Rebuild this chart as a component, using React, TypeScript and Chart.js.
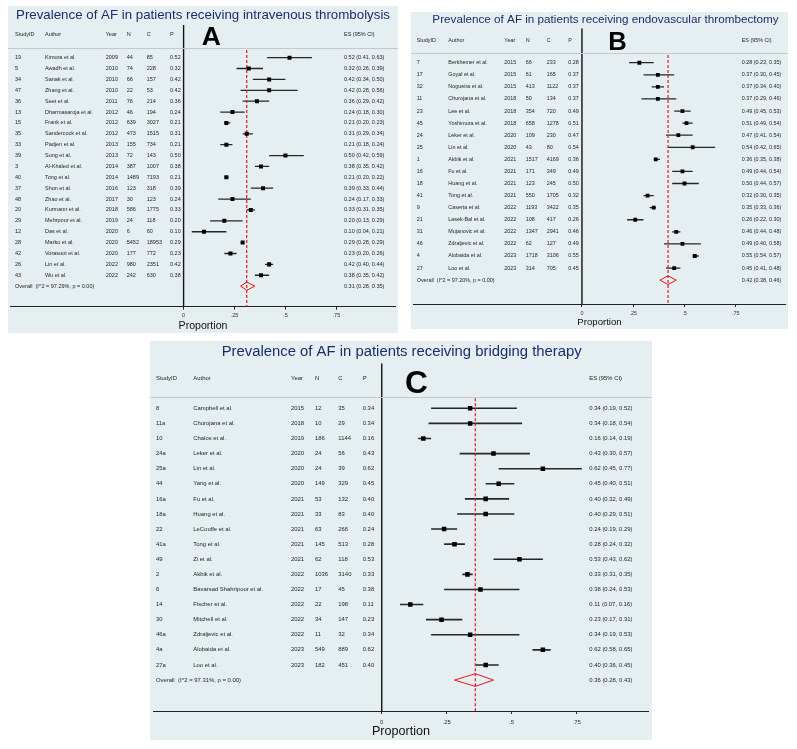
import React, { useEffect, useRef } from "react";
import { Chart, registerables } from "chart.js";
Chart.register(...registerables);

const FONT = "'Liberation Sans', Arial, Helvetica, sans-serif";
const BG = "#e5eff2";
const NAVY = "#1c2d6b";
const TEXT = "#1e1e1e";
const RED = "#e8141b";

// shared axis / header text
const tickValues = [0, 0.25, 0.5, 0.75];
const tickLabels = ["0", ".25", ".5", ".75"];
const headers = ["StudyID", "Author", "Year", "N", "C", "P"];
const esHeader = "ES (95% CI)";
const axisTitle = "Proportion";

// ---------------- Panel A: intravenous thrombolysis ----------------
const titleA = "Prevalence of AF in patients receiving intravenous thrombolysis";
const studyIdA = ["19", "5", "34", "47", "36", "13", "15", "35", "33", "39", "3", "40", "37", "48", "20", "29", "12", "28", "42", "26", "43"];
const authorA = ["Kimura et al.", "Awadh et al.", "Sanak et al.", "Zhang et al.", "Seet et al.", "Dharmasaroja et al.", "Frank et al.", "Sandercock et al.", "Padjen et al.", "Sung et al.", "Al-Khaled et al.", "Tong et al.", "Shon et al.", "Zhao et al.", "Kurmann et al.", "Mehrpour et al.", "Das et al.", "Marko et al.", "Vorasoot et al.", "Lin et al.", "Wu et al."];
const yearA = [2009, 2010, 2010, 2010, 2011, 2012, 2012, 2012, 2013, 2013, 2014, 2014, 2016, 2017, 2018, 2019, 2020, 2020, 2020, 2022, 2022];
const nA = [44, 74, 66, 22, 76, 46, 639, 473, 155, 72, 387, 1489, 123, 30, 586, 24, 6, 5452, 177, 980, 242];
const cA = [85, 228, 157, 53, 214, 194, 3027, 1515, 734, 143, 1007, 7193, 318, 123, 1775, 118, 60, 18953, 772, 2351, 630];
const esA = [0.52, 0.32, 0.42, 0.42, 0.36, 0.24, 0.21, 0.31, 0.21, 0.50, 0.38, 0.21, 0.39, 0.24, 0.33, 0.20, 0.10, 0.29, 0.23, 0.42, 0.38];
const loA = [0.41, 0.26, 0.34, 0.28, 0.29, 0.18, 0.20, 0.29, 0.18, 0.42, 0.35, 0.20, 0.33, 0.17, 0.31, 0.13, 0.04, 0.28, 0.20, 0.40, 0.35];
const hiA = [0.63, 0.39, 0.50, 0.56, 0.42, 0.30, 0.23, 0.34, 0.24, 0.59, 0.42, 0.22, 0.44, 0.33, 0.35, 0.29, 0.21, 0.29, 0.26, 0.44, 0.42];
const overallA = [0.31, 0.28, 0.35];
const hetA = "(I^2 = 97.29%, p = 0.00)";

// ---------------- Panel B: endovascular thrombectomy ----------------
const titleB = "Prevalence of AF in patients receiving endovascular thrombectomy";
const studyIdB = ["7", "17", "32", "11", "23", "45", "24", "25", "1", "16", "18", "41", "9", "21", "31", "46", "4", "27"];
const authorB = ["Berkhemer et al.", "Goyal et al.", "Nogueira et al.", "Churojana et al.", "Lee et al.", "Yoshimura et al.", "Leker et al.", "Lin et al.", "Akbik et al.", "Fu et al.", "Huang et al.", "Tong et al.", "Caserta et al.", "Lasek-Bal et al.", "Mujanovic et al.", "Zdraljevic et al.", "Alobaida et al.", "Loo et al."];
const yearB = [2015, 2015, 2015, 2018, 2018, 2018, 2020, 2020, 2021, 2021, 2021, 2021, 2022, 2022, 2022, 2022, 2023, 2023];
const nB = [66, 61, 413, 50, 354, 658, 109, 43, 1517, 171, 123, 550, 1193, 108, 1347, 62, 1718, 314];
const cB = [233, 165, 1122, 134, 720, 1278, 230, 80, 4169, 349, 245, 1705, 3422, 417, 2941, 127, 3106, 705];
const esB = [0.28, 0.37, 0.37, 0.37, 0.49, 0.51, 0.47, 0.54, 0.36, 0.49, 0.50, 0.32, 0.35, 0.26, 0.46, 0.49, 0.55, 0.45];
const loB = [0.23, 0.30, 0.34, 0.29, 0.45, 0.49, 0.41, 0.42, 0.35, 0.44, 0.44, 0.30, 0.33, 0.22, 0.44, 0.40, 0.54, 0.41];
const hiB = [0.35, 0.45, 0.40, 0.46, 0.53, 0.54, 0.54, 0.65, 0.38, 0.54, 0.57, 0.35, 0.36, 0.30, 0.48, 0.58, 0.57, 0.48];
const overallB = [0.42, 0.38, 0.46];
const hetB = "(I^2 = 97.20%, p = 0.00)";

// ---------------- Panel C: bridging therapy ----------------
const titleC = "Prevalence of AF in patients receiving bridging therapy";
const studyIdC = ["8", "11a", "10", "24a", "25a", "44", "16a", "18a", "22", "41a", "49", "2", "6", "14", "30", "46a", "4a", "27a"];
const authorC = ["Campbell et al.", "Churojana et al.", "Chalos et al.", "Leker et al.", "Lin et al.", "Yang et al.", "Fu et al.", "Huang et al.", "LeCouffe et al.", "Tong et al.", "Zi et al.", "Akbik et al.", "Bavarsad Shahripour et al.", "Fischer et al.", "Mitchell et al.", "Zdraljevic et al.", "Alobaida et al.", "Loo et al."];
const yearC = [2015, 2018, 2019, 2020, 2020, 2020, 2021, 2021, 2021, 2021, 2021, 2022, 2022, 2022, 2022, 2022, 2023, 2023];
const nC = [12, 10, 186, 24, 24, 149, 53, 33, 63, 145, 62, 1036, 17, 22, 34, 11, 549, 182];
const cC = [35, 29, 1144, 56, 39, 329, 132, 83, 266, 513, 118, 3140, 45, 198, 147, 32, 889, 451];
const esC = [0.34, 0.34, 0.16, 0.43, 0.62, 0.45, 0.40, 0.40, 0.24, 0.28, 0.53, 0.33, 0.38, 0.11, 0.23, 0.34, 0.62, 0.40];
const loC = [0.19, 0.18, 0.14, 0.30, 0.45, 0.40, 0.32, 0.29, 0.19, 0.24, 0.43, 0.31, 0.24, 0.07, 0.17, 0.19, 0.58, 0.36];
const hiC = [0.52, 0.54, 0.19, 0.57, 0.77, 0.51, 0.49, 0.51, 0.29, 0.32, 0.62, 0.35, 0.53, 0.16, 0.31, 0.53, 0.65, 0.45];
const overallC = [0.36, 0.28, 0.43];
const hetC = "(I^2 = 97.31%, p = 0.00)";

// ---------------- layout (positions, sizes) ----------------
const layoutA = {
  left: 8, top: 6, w: 390, h: 327, padTop: 19, yMin: -2.0, yMax: 23.89, xMin: -0.8481, xMax: 1.0387,
  titleX: 195, titleY: 9, titleSize: 13.3, letter: "A", letterX: 193.7, letterBase: 39, letterSize: 26.5,
  headerRow: -1.086, headerLineRow: 0.136, dashTop: 0.29,
  cols: [7, 37, 97.7, 118.7, 138.7, 162], esX: 336,
  rowSize: 5.5, tickSize: 5.5, tickPad: 2.5, axisH: 26.3, axisTitleSize: 10.6, axisTitlePad: 0.6,
  sq: 2.83, ciW: 1.3, diamondH: 0.38,
};
const layoutB = {
  left: 411, top: 12, w: 377, h: 317, padTop: 16.3, yMin: -1.85, yMax: 20.975, xMin: -0.8207, xMax: 0.9918,
  titleX: 194.5, titleY: 8, titleSize: 11.7, letter: "B", letterX: 197.3, letterBase: 38, letterSize: 25.6,
  headerRow: -0.879, headerLineRow: 0.222, dashTop: 0.363,
  cols: [5.7, 37.3, 93.3, 114.7, 135.7, 157.3], esX: 330.7,
  rowSize: 5.4, tickSize: 5.4, tickPad: 3, axisH: 25, axisTitleSize: 9.6, axisTitlePad: 1.2,
  sq: 2.7, ciW: 1.3, diamondH: 0.36,
};
const layoutC = {
  left: 150, top: 341, w: 502, h: 399, padTop: 22.3, yMin: -1.98, yMax: 21.05, xMin: -0.8796, xMax: 1.0277,
  titleX: 251.7, titleY: 10.7, titleSize: 14.86, letter: "C", letterX: 255, letterBase: 51.5, letterSize: 31.7,
  headerRow: -1.007, headerLineRow: 0.272, dashTop: 0.338,
  cols: [6, 43.3, 141, 165, 188.3, 212.7], esX: 439.3,
  rowSize: 5.9, tickSize: 5.9, tickPad: 4.5, axisH: 29, axisTitleSize: 12.6, axisTitlePad: 0.8,
  sq: 3.2, ciW: 1.6, diamondH: 0.42,
};

const f2 = (v: number) => v.toFixed(2);
const fmtCI = (e: number, l: number, h: number) => `${f2(e)} (${f2(l)}, ${f2(h)})`;

const tablePlugin = {
  id: "forestTable",
  beforeDraw(chart: any) {
    const { ctx, width, height } = chart;
    ctx.save();
    ctx.fillStyle = BG;
    ctx.fillRect(0, 0, width, height);
    ctx.restore();
  },
  afterDraw(chart: any, _args: any, opts: any) {
    const L = opts.layout;
    const D = opts.data;
    const { ctx, width } = chart;
    const ys = chart.scales.y;
    ctx.save();
    // title
    ctx.font = `${L.titleSize}px ${FONT}`;
    ctx.fillStyle = NAVY;
    ctx.textAlign = "center";
    ctx.textBaseline = "middle";
    ctx.fillText(D.title, L.titleX, L.titleY);
    // panel letter
    ctx.font = `bold ${L.letterSize}px ${FONT}`;
    ctx.fillStyle = "#000";
    ctx.textAlign = "left";
    ctx.textBaseline = "alphabetic";
    ctx.fillText(L.letter, L.letterX, L.letterBase);
    // header separator
    const hy = Math.round(ys.getPixelForValue(L.headerLineRow)) + 0.5;
    ctx.strokeStyle = "#c2cace";
    ctx.lineWidth = 1;
    ctx.beginPath();
    ctx.moveTo(0, hy);
    ctx.lineTo(width, hy);
    ctx.stroke();
    // header texts
    ctx.font = `${L.rowSize}px ${FONT}`;
    ctx.fillStyle = TEXT;
    ctx.textBaseline = "middle";
    const hty = ys.getPixelForValue(L.headerRow);
    headers.forEach((h: string, k: number) => ctx.fillText(h, L.cols[k], hty));
    ctx.fillText(esHeader, L.esX, hty);
    // rows
    D.ids.forEach((id: string, i: number) => {
      const ry = ys.getPixelForValue(i + 1);
      const vals = [id, D.authors[i], String(D.years[i]), String(D.n[i]), String(D.c[i]), f2(D.es[i])];
      vals.forEach((v: string, k: number) => ctx.fillText(v, L.cols[k], ry));
      ctx.fillText(fmtCI(D.es[i], D.lo[i], D.hi[i]), L.esX, ry);
    });
    const oy = ys.getPixelForValue(D.ids.length + 1);
    ctx.fillText("Overall  " + D.het, L.cols[0], oy);
    ctx.fillText(fmtCI(D.overall[0], D.overall[1], D.overall[2]), L.esX, oy);
    ctx.restore();
  },
};

function buildConfig(D: any, L: any): any {
  const n = D.ids.length;
  const ciData: any[] = [];
  const esData: any[] = [];
  for (let i = 0; i < n; i++) {
    ciData.push({ x: D.lo[i], y: i + 1 }, { x: D.hi[i], y: i + 1 }, { x: NaN, y: NaN });
    esData.push({ x: D.es[i], y: i + 1 });
  }
  const oRow = n + 1;
  const [oe, ol, oh] = D.overall;
  const diamond = [
    { x: ol, y: oRow },
    { x: oe, y: oRow - L.diamondH },
    { x: oh, y: oRow },
    { x: oe, y: oRow + L.diamondH },
    { x: ol, y: oRow },
  ];
  return {
    type: "scatter",
    data: {
      datasets: [
        {
          label: "ES",
          data: esData,
          showLine: false,
          pointStyle: "rect",
          pointRadius: L.sq,
          pointHoverRadius: L.sq,
          backgroundColor: "#000",
          pointBackgroundColor: "#000",
          pointBorderWidth: 0,
          borderWidth: 0,
        },
        {
          label: "Overall line",
          data: [{ x: oe, y: L.dashTop }, { x: oe, y: L.yMax }],
          showLine: true,
          borderColor: RED,
          borderWidth: 1.2,
          borderDash: [3, 2],
          pointRadius: 0,
        },
        {
          label: "95% CI",
          data: ciData,
          showLine: true,
          spanGaps: false,
          borderColor: "#262626",
          borderWidth: L.ciW,
          pointRadius: 0,
        },
        {
          label: "Overall",
          data: diamond,
          showLine: true,
          borderColor: RED,
          borderWidth: 1,
          pointRadius: 0,
          fill: false,
        },
        {
          label: "Null",
          data: [{ x: 0, y: L.yMin }, { x: 0, y: L.yMax }],
          showLine: true,
          borderColor: "#111",
          borderWidth: 1.4,
          pointRadius: 0,
        },
      ],
    },
    options: {
      animation: false,
      responsive: false,
      devicePixelRatio: 1,
      events: [],
      layout: { padding: { top: L.padTop, left: 0, right: 0, bottom: 0 } },
      plugins: {
        legend: { display: false },
        title: { display: false },
        tooltip: { enabled: false },
        forestTable: { layout: L, data: D },
      },
      scales: {
        x: {
          type: "linear",
          min: L.xMin,
          max: L.xMax,
          afterBuildTicks: (s: any) => {
            s.ticks = tickValues.map((v) => ({ value: v }));
          },
          afterFit: (s: any) => {
            s.height = L.axisH;
          },
          ticks: {
            autoSkip: false,
            maxRotation: 0,
            padding: L.tickPad,
            color: "#333",
            font: { family: FONT, size: L.tickSize },
            callback: (_v: any, i: number) => tickLabels[i],
          },
          grid: {
            display: true,
            drawOnChartArea: false,
            drawTicks: true,
            tickLength: 3,
            color: "#222",
            tickColor: "#222",
          },
          border: { display: true, color: "#222", width: 1 },
          title: {
            display: true,
            text: axisTitle,
            color: "#111",
            font: { family: FONT, size: L.axisTitleSize },
            padding: { top: 0, bottom: L.axisTitlePad },
          },
        },
        y: {
          type: "linear",
          reverse: true,
          min: L.yMin,
          max: L.yMax,
          display: false,
        },
      },
    },
    plugins: [tablePlugin],
  };
}

const dataA = { title: titleA, ids: studyIdA, authors: authorA, years: yearA, n: nA, c: cA, es: esA, lo: loA, hi: hiA, overall: overallA, het: hetA };
const dataB = { title: titleB, ids: studyIdB, authors: authorB, years: yearB, n: nB, c: cB, es: esB, lo: loB, hi: hiB, overall: overallB, het: hetB };
const dataC = { title: titleC, ids: studyIdC, authors: authorC, years: yearC, n: nC, c: cC, es: esC, lo: loC, hi: hiC, overall: overallC, het: hetC };

function ForestPanel({ data, layout }: { data: any; layout: any }) {
  const ref = useRef<HTMLCanvasElement | null>(null);
  useEffect(() => {
    if (!ref.current) return;
    const chart = new Chart(ref.current, buildConfig(data, layout));
    return () => chart.destroy();
  }, [data, layout]);
  return (
    <canvas
      ref={ref}
      width={layout.w}
      height={layout.h}
      style={{ position: "absolute", left: layout.left, top: layout.top, width: layout.w, height: layout.h, display: "block" }}
    />
  );
}

export default function App() {
  return (
    <div style={{ position: "absolute", left: 0, top: 0, width: 797, height: 749, background: "#fff", overflow: "hidden" }}>
      <ForestPanel data={dataA} layout={layoutA} />
      <ForestPanel data={dataB} layout={layoutB} />
      <ForestPanel data={dataC} layout={layoutC} />
    </div>
  );
}
